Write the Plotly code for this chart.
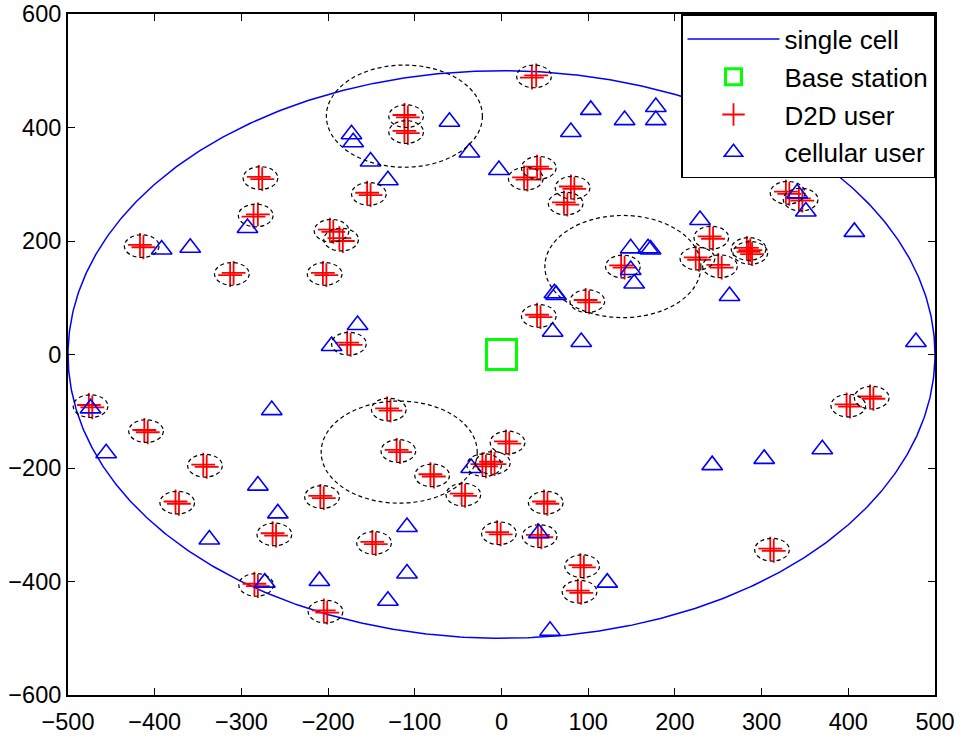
import numpy as np
import plotly.graph_objects as go

# ---- data ----
cell_radius = 500
base_x = [0]
base_y = [0]

# D2D pairs: first and second user of each pair
d2d_a_x = [-112, -112, -280, -286, -155, -198, -187, -417, -313, -206, -178,
           35, 41, 26, 80, 72, 240, 224, 250, 283, 285, 138, 97, 41, 328, 343,
           -476, -412, -344, -376, -264, -285, -205, -209, -132, -121, -82, -46, -149,
           -22, -12, -5, 5, 49, 42, 91, 88, 310, 398, 425]
d2d_a_y = [422, 394, 313, 243, 285, 220, 205, 193, 140, 144, 21,
           488, 331, 312, 296, 268, 208, 171, 158, 188, 181, 157, 96, 70, 287, 275,
           -89, -133, -194, -259, -315, -404, -451, -249, -95, -168, -211, -245, -330,
           -193, -189, -313, -153, -259, -318, -371, -416, -342, -88, -74]
d2d_b_x = [-108, -108, -276, -281, -151, -194, -183, -413, -309, -202, -174,
           40, 45, 30, 84, 76, 244, 228, 254, 287, 289, 142, 101, 45, 332, 347,
           -472, -408, -340, -372, -260, -281, -201, -205, -128, -117, -78, -42, -145,
           -18, -8, -1, 9, 53, 46, 95, 92, 314, 402, 429]
d2d_b_y = [418, 390, 309, 247, 281, 216, 200, 189, 144, 140, 17,
           492, 327, 308, 292, 264, 204, 167, 153, 184, 177, 153, 92, 66, 283, 271,
           -93, -137, -198, -263, -319, -408, -455, -253, -99, -172, -215, -249, -334,
           -197, -193, -317, -157, -263, -322, -375, -420, -346, -92, -78]

# cellular users
cell_x = [-173, -171, -60, -37, -3, -151, -131, -293, -392, -359, -166, -196,
          103, 142, 178, 178, 80, 229, 149, 169, 172, 149, 153, 263, 61, 63, 59, 92,
          407, 478, 341, 351,
          -474, -456, -265, -281, -258, -337, -273, -210, -109, -109, -131, -35,
          43, 122, 56, 243, 303, 370]
cell_y = [388, 374, 410, 356, 325, 340, 307, 223, 185, 188, 52, 15,
          431, 413, 436, 413, 392, 237, 187, 187, 185, 149, 125, 103, 108, 105, 40, 22,
          216, 22, 284, 252,
          -95, -174, -98, -231, -280, -326, -402, -399, -304, -386, -434, -200,
          -315, -402, -487, -195, -184, -167]

# larger coverage circles
cluster_x = [-112, 140, -118]
cluster_y = [420, 155, -172]

x_ticks = [-500, -400, -300, -200, -100, 0, 100, 200, 300, 400, 500]
y_ticks = [-600, -400, -200, 0, 200, 400, 600]

legend_names = ["single cell", "Base station", "D2D user", "cellular user"]

# ---- figure ----
pair_r = 20
cluster_r = 90
FONT = "Liberation Sans, Arial, Helvetica, sans-serif"

theta = np.linspace(0, 2 * np.pi, 721)
fig = go.Figure()
fig.add_trace(go.Scatter(x=cell_radius * np.cos(theta), y=cell_radius * np.sin(theta),
                         mode="lines", line=dict(color="#0000FF", width=1.5),
                         name=legend_names[0], legendgroup="g1"))
fig.add_trace(go.Scatter(x=base_x, y=base_y, mode="markers", name=legend_names[1],
                         legendgroup="g2",
                         marker=dict(symbol="square-open", size=30, color="#00FF00",
                                     line=dict(color="#00FF00", width=3))))
fig.add_trace(go.Scatter(x=d2d_a_x + d2d_b_x, y=d2d_a_y + d2d_b_y, mode="markers",
                         name=legend_names[2], legendgroup="g3",
                         marker=dict(symbol="cross-thin", size=17, color="#FF0000",
                                     line=dict(color="#FF0000", width=1.8))))
fig.add_trace(go.Scatter(x=cell_x, y=cell_y, mode="markers", name=legend_names[3],
                         legendgroup="g4",
                         marker=dict(symbol="triangle-up-open", size=18, color="#0000FF",
                                     line=dict(color="#0000FF", width=1.6))))

shapes = []
for ax, ay, bx, by in zip(d2d_a_x, d2d_a_y, d2d_b_x, d2d_b_y):
    mx, my = (ax + bx) / 2, (ay + by) / 2
    shapes.append(dict(type="circle", xref="x", yref="y",
                       x0=mx - pair_r, x1=mx + pair_r, y0=my - pair_r, y1=my + pair_r,
                       line=dict(color="black", width=1.2, dash="4px,3px")))
for cx, cy in zip(cluster_x, cluster_y):
    shapes.append(dict(type="circle", xref="x", yref="y",
                       x0=cx - cluster_r, x1=cx + cluster_r, y0=cy - cluster_r, y1=cy + cluster_r,
                       line=dict(color="black", width=1.2, dash="4px,3px")))

axis_common = dict(showgrid=False, zeroline=False, showline=True, linecolor="black",
                   linewidth=2, mirror="ticks", ticks="inside", ticklen=7,
                   tickwidth=1, tickcolor="black", automargin=False,
                   tickfont=dict(family=FONT, size=23.5, color="black"))

fig.update_layout(
    template="none",
    width=963, height=738,
    margin=dict(l=68, r=28, t=14, b=43),
    plot_bgcolor="white", paper_bgcolor="white",
    shapes=shapes,
    xaxis=dict(range=[-500, 500], tickvals=x_ticks, ticklabelstandoff=5, **axis_common),
    yaxis=dict(range=[-600, 600], tickvals=y_ticks, **axis_common),
    legend=dict(x=1, y=1, xanchor="right", yanchor="top", bgcolor="white",
                bordercolor="black", borderwidth=1.5, itemwidth=92,
                tracegroupgap=1, traceorder="grouped",
                font=dict(family=FONT, size=26, color="black")),
    font=dict(family=FONT, color="black"),
    showlegend=True,
)

fig.write_html("out.html", config={"displayModeBar": False},
               post_script="document.body.style.margin='0';document.body.style.overflow='hidden';")
